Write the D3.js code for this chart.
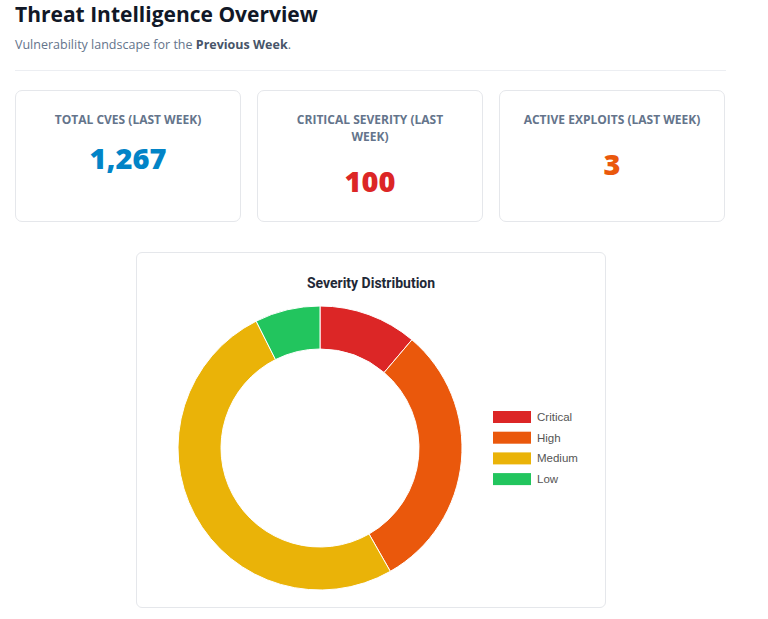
<!DOCTYPE html>
<html>
<head>
<meta charset="utf-8">
<script src="https://cdn.jsdelivr.net/npm/d3@7"></script>
<style>
  body { margin: 0; background: #fff; font-family: "Open Sans", "Noto Sans", sans-serif; }
  #page { position: relative; width: 768px; height: 619px; }
  h1 { position: absolute; left: 15px; top: 0px; margin: 0; font-size: 21px; font-weight: 700; color: #111827; }
  .sub { position: absolute; left: 15px; top: 36px; font-size: 12.5px; color: #64748b; }
  .sub b { color: #475569; }
  .rule { position: absolute; left: 15px; top: 70px; width: 711px; height: 1px; background: #eceef2; }
  .card { position: absolute; top: 90px; width: 226px; height: 132px; border: 1px solid #e5e7eb; border-radius: 7px; box-sizing: border-box; text-align: center; }
  .card .lab { margin-top: 20px; padding: 0 20px; font-size: 12px; font-weight: 700; color: #64748b; line-height: 17px; }
  .card .val { font-size: 29px; font-weight: 800; }
  #chartCard { position: absolute; left: 136px; top: 252px; width: 470px; height: 356px; border: 1px solid #e5e7eb; border-radius: 6px; box-sizing: border-box; }
</style>
</head>
<body>
<div id="page">
  <h1>Threat Intelligence Overview</h1>
  <div class="sub">Vulnerability landscape for the <b>Previous Week</b>.</div>
  <div class="rule"></div>
  <div id="cards"></div>
  <div id="chartCard"><svg id="chart" width="470" height="356"></svg></div>
</div>
<script>
// KPI cards
const cardLabels = ["TOTAL CVES (LAST WEEK)", "CRITICAL SEVERITY (LAST WEEK)", "ACTIVE EXPLOITS (LAST WEEK)"];
const cardValues = ["1,267", "100", "3"];
const cardColors = ["#0284c7", "#dc2626", "#ea580c"];

// donut data
const severities = ["Critical", "High", "Medium", "Low"];
const counts = [142, 387, 644, 94];
const sevColors = ["#dc2626", "#ea580c", "#eab308", "#22c55e"];

const cardLeft = [15, 257, 499];
const cards = d3.select("#cards").selectAll(".card")
    .data(cardLabels)
    .enter().append("div")
    .attr("class", "card")
    .style("left", (d, i) => cardLeft[i] + "px");
cards.append("div").attr("class", "lab").text(d => d);
cards.append("div").attr("class", "val")
    .style("margin-top", (d, i) => i === 0 ? "10px" : "16px")
    .style("color", (d, i) => cardColors[i])
    .text((d, i) => cardValues[i]);

const svg = d3.select("#chart");
svg.append("text")
    .attr("x", 234).attr("y", 35)
    .attr("text-anchor", "middle")
    .attr("font-family", "Roboto, sans-serif")
    .attr("font-size", 14).attr("font-weight", 700)
    .attr("fill", "#1f2937")
    .text("Severity Distribution");

const colour = d3.scaleOrdinal().domain(severities).range(sevColors);
const pie = d3.pie().sort(null).value(d => d.v);
const arc = d3.arc().innerRadius(99).outerRadius(142);
const data = severities.map((s, i) => ({ s: s, v: counts[i] }));

const g = svg.append("g").attr("transform", "translate(183,195)");
g.selectAll("path")
    .data(pie(data))
    .enter().append("path")
    .attr("d", arc)
    .attr("fill", d => colour(d.data.s))
    .attr("stroke", "#fff")
    .attr("stroke-width", 1);

const legend = svg.append("g").attr("transform", "translate(356,158)");
const items = legend.selectAll(".legend-item")
    .data(severities)
    .enter().append("g")
    .attr("class", "legend-item")
    .attr("transform", (d, i) => `translate(0, ${i * 20.7})`);
items.append("rect")
    .attr("width", 38).attr("height", 12)
    .attr("fill", d => colour(d));
items.append("text")
    .attr("x", 44).attr("y", 10)
    .attr("font-family", "Liberation Sans, Arial, sans-serif")
    .attr("font-size", 11.5).attr("fill", "#555")
    .text(d => d);
</script>
</body>
</html>
